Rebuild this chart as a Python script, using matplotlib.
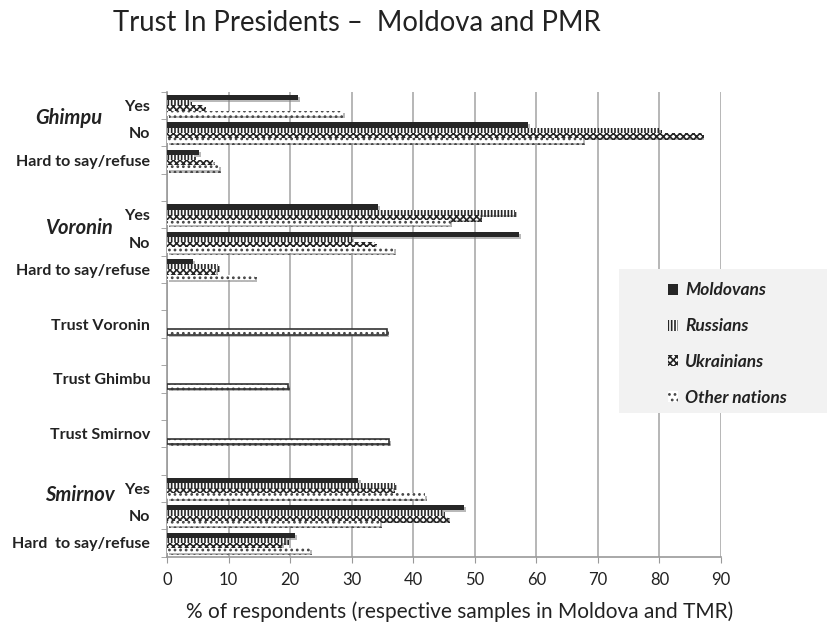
import matplotlib
matplotlib.use("Agg")
import matplotlib.pyplot as plt
import matplotlib.patheffects as pe
from matplotlib.patches import Rectangle, Patch
import numpy as np

plt.rcParams['font.family'] = ['Lato', 'DejaVu Sans']
plt.rcParams['hatch.linewidth'] = 1.2

# Rows from top to bottom ('' = blank spacer row)
row_labels = ["Yes", "No", "Hard to say/refuse", "",
              "Yes", "No", "Hard to say/refuse", "",
              "Trust Voronin", "", "Trust Ghimbu", "", "Trust Smirnov", "",
              "Yes", "No", "Hard  to say/refuse"]
nan = np.nan
moldovans = [21.3, 58.6, 5.2, nan, 34.2, 57.2, 4.2, nan,
             nan, nan, nan, nan, nan, nan, 31.1, 48.3, 20.8]
russians = [3.8, 80.0, 4.4, nan, 56.5, 30.0, 8.3, nan,
            nan, nan, nan, nan, nan, nan, 37.0, 44.8, 19.4]
ukrainians = [6.0, 86.9, 7.4, nan, 50.8, 33.8, 8.0, nan,
              nan, nan, nan, nan, nan, nan, 36.7, 45.7, 18.6]
others = [28.6, 67.6, 8.5, nan, 46.0, 36.8, 14.3, nan,
          35.7, nan, 19.7, nan, 36.0, nan, 41.9, 34.6, 23.2]
series_names = ["Moldovans", "Russians", "Ukrainians", "Other nations"]
groups = ["Ghimpu", "Voronin", "Smirnov"]
xticks = [0, 10, 20, 30, 40, 50, 60, 70, 80, 90]

W, H = 827, 625
fig = plt.figure(figsize=(W / 100, H / 100), dpi=100)
ax = fig.add_axes([167 / W, 1 - 556.6 / H, (721 - 167) / W, (556.6 - 91.7) / H])

y = np.arange(len(row_labels))
bh = 0.19
offsets = [-1.5 * bh, -0.5 * bh, 0.5 * bh, 1.5 * bh]
dark = '#262626'
styles = [
    dict(facecolor=dark, edgecolor=dark, linewidth=0),
    dict(facecolor='white', edgecolor=dark, hatch='|||||', linewidth=0),
    dict(facecolor='white', edgecolor=dark, hatch='xxxxx', linewidth=0),
    dict(facecolor='white', edgecolor='#444444', hatch='...', linewidth=0),
]
shadow = [pe.SimplePatchShadow(offset=(1.5, -1.5), shadow_rgbFace='0.5', alpha=0.55), pe.Normal()]
all_series = [moldovans, russians, ukrainians, others]
for vals, off, st in zip(all_series, offsets, styles):
    bars = ax.barh(y + off, vals, height=bh, zorder=3, **st)
    for b in bars:
        b.set_path_effects(shadow)

# outline for the single "Trust" bars
for i, lab in enumerate(row_labels):
    if lab.startswith("Trust"):
        ax.barh(y[i] + offsets[3], others[i], height=bh, facecolor='none',
                edgecolor='#333333', linewidth=1.2, zorder=4)

ax.set_xlim(0, 90)
ax.set_ylim(len(row_labels) - 0.5, -0.5)
ax.set_xticks(xticks)
ax.set_xticklabels([str(t) for t in xticks], fontsize=12, color='#222222')
ax.tick_params(axis='x', length=4, color='#999999', pad=7)
ax.set_yticks(y)
ax.set_yticklabels(row_labels, fontsize=11.5, fontweight='bold', color='#222222')
ax.set_yticks(np.arange(len(row_labels) + 1) - 0.5, minor=True)
ax.tick_params(axis='y', which='major', length=0, pad=12)
ax.tick_params(axis='y', which='minor', length=4, color='#999999')
ax.grid(axis='x', color='#aaaaaa', linewidth=1.2, zorder=0)
for s in ['top', 'right']:
    ax.spines[s].set_visible(False)
for s in ['left', 'bottom']:
    ax.spines[s].set_color('#999999')
    ax.spines[s].set_linewidth(1.2)

# Group labels
yt = ax.get_yaxis_transform()
group_pos = [(0.45, -0.177), (4.5, -0.159), (14.25, -0.158)]
for g, (gy, gx) in zip(groups, group_pos):
    ax.text(gx, gy, g, transform=yt, ha='center', va='center', fontsize=14.5,
            fontweight='bold', fontstyle='italic', color='#222222')

ax.set_xlabel("% of respondents (respective samples in Moldova and TMR)",
              fontsize=15, color='#222222', labelpad=12)
ax.xaxis.set_label_coords(0.529, -0.097)
fig.text(113 / W, 1 - 23 / H, "Trust In Presidents –  Moldova and PMR",
         fontsize=19.8, color='#222222', ha='left', va='center')

# Legend
fig.patches.append(Rectangle((619 / W, 1 - 413 / H), (827 - 619) / W, (413 - 269) / H,
                             transform=fig.transFigure, facecolor='#f2f2f2',
                             edgecolor='none', zorder=0))
handles = [Patch(**st) for st in styles]
leg = fig.legend(handles, series_names, loc='upper left',
                 bbox_to_anchor=(661 / W, 1 - 275.5 / H), frameon=False,
                 handlelength=0.6, handleheight=0.6, handletextpad=0.4,
                 labelspacing=1.14, borderaxespad=0,
                 prop=dict(family='Lato', weight='bold', style='italic', size=12.5))
for t in leg.get_texts():
    t.set_color('#222222')

fig.savefig("out.png", dpi=100)
